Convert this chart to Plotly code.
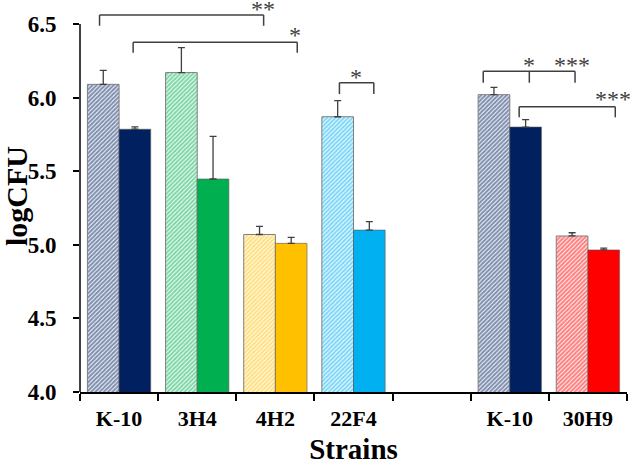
import plotly.graph_objects as go

# ---- data ----
strains = ["K-10", "3H4", "4H2", "22F4", "K-10", "30H9"]
positions = [0, 1, 2, 3, 5, 6]          # slot 4 is left empty
hatched_vals = [6.09, 6.17, 5.07, 5.87, 6.02, 5.06]
hatched_err = [0.095, 0.17, 0.055, 0.11, 0.05, 0.022]
solid_vals = [5.785, 5.447, 5.01, 5.10, 5.80, 4.965]
solid_err = [0.016, 0.29, 0.04, 0.057, 0.05, 0.013]
colors = ["#002060", "#00B050", "#FFC000", "#00B0F0", "#002060", "#FF0000"]

# significance brackets: (x legs, y top, y bottom, labels [(x, y, text)])
brackets = [
    ([-0.25, 1.85], 6.561, 6.488, [(1.84, 6.615, "**")]),
    ([0.18, 2.28], 6.376, 6.305, [(2.25, 6.44, "*")]),
    ([2.82, 3.26], 6.101, 6.024, [(3.03, 6.154, "*")]),
    ([4.66, 5.25, 5.835], 6.179, 6.101, [(5.25, 6.235, "*"), (5.80, 6.235, "***")]),
    ([5.12, 6.35], 5.938, 5.866, [(6.32, 6.004, "***")]),
]

serif = "Times New Roman, Liberation Serif, serif"

fig = go.Figure()
fig.add_trace(go.Bar(
    x=positions, y=hatched_vals,
    marker=dict(
        color="white",
        pattern=dict(shape="/", fgcolor=colors, bgcolor="white", size=3, solidity=0.7),
        line=dict(color="#7f7f7f", width=1),
    ),
    error_y=dict(type="data", symmetric=False, array=hatched_err,
                 arrayminus=[0] * len(hatched_err), color="#404040",
                 thickness=1.3, width=3.5),
    showlegend=False,
))
fig.add_trace(go.Bar(
    x=positions, y=solid_vals,
    marker=dict(color=colors, line=dict(color="rgba(90,90,90,0.6)", width=1)),
    error_y=dict(type="data", symmetric=False, array=solid_err,
                 arrayminus=[0] * len(solid_err), color="#404040",
                 thickness=1.3, width=3.5),
    showlegend=False,
))

# y-axis line (only up to 6.5)
fig.add_shape(type="line", xref="paper", x0=0, x1=0, yref="y", y0=4.0, y1=6.5,
              line=dict(color="black", width=1.5))

for legs, ytop, ybot, labels in brackets:
    fig.add_shape(type="line", xref="x", yref="y", x0=legs[0], x1=legs[-1],
                  y0=ytop, y1=ytop, line=dict(color="#404040", width=1.5))
    for lx in legs:
        fig.add_shape(type="line", xref="x", yref="y", x0=lx, x1=lx,
                      y0=ytop, y1=ybot, line=dict(color="#404040", width=1.5))
    for tx, ty, txt in labels:
        fig.add_annotation(x=tx, y=ty, xref="x", yref="y", text=txt,
                           showarrow=False, yanchor="middle", yshift=-2,
                           height=18, valign="middle",
                           font=dict(family=serif, size=24, color="#404040"))

fig.update_layout(
    width=630, height=465,
    margin=dict(l=80, r=3, t=0, b=73, autoexpand=False),
    plot_bgcolor="white", paper_bgcolor="white",
    barmode="group", bargap=0.19, bargroupgap=0,
    font=dict(family=serif, color="black"),
)
fig.update_xaxes(
    range=[-0.5, 6.5], tickmode="array", tickvals=positions, ticktext=strains,
    ticks="", showline=True, linecolor="black", linewidth=1.5, showgrid=False,
    zeroline=False, automargin=False,
    tickfont=dict(family=serif, size=22, color="black", weight="bold"),
    ticklabelstandoff=6,
    minor=dict(tickmode="array", tickvals=[-0.5, 0.5, 1.5, 2.5, 3.5, 4.5, 5.5, 6.5],
               ticks="outside", ticklen=7, tickwidth=1.5, tickcolor="black",
               showgrid=False),
    title=dict(text="<b>Strains</b>", font=dict(family=serif, size=29, color="black"),
               standoff=9),
)
fig.update_yaxes(
    range=[4.0, 6.663], tickmode="array", tickvals=[4.0, 4.5, 5.0, 5.5, 6.0, 6.5],
    ticktext=["4.0", "4.5", "5.0", "5.5", "6.0", "6.5"],
    ticks="outside", ticklen=6, tickwidth=1.5, tickcolor="black",
    showline=False, showgrid=False, zeroline=False, automargin=False,
    tickfont=dict(family=serif, size=23, color="black", weight="bold"),
    ticklabelstandoff=12,
    title=dict(text="<b>logCFU</b>", font=dict(family=serif, size=30, color="black"),
               standoff=2),
)

fig.write_html("out.html", post_script="document.body.style.margin='0';",
               config={"displayModeBar": False})
